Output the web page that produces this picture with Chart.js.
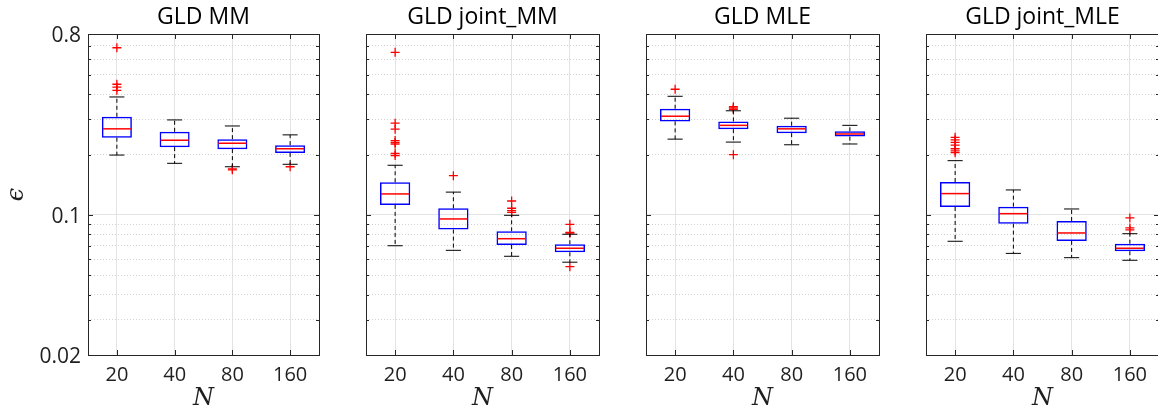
<!DOCTYPE html>
<html>
<head>
<meta charset="utf-8">
<script src="https://cdn.jsdelivr.net/npm/chart.js"></script>
<style>
  html, body { margin:0; padding:0; background:#fff; width:1158px; height:412px; overflow:hidden; position:relative }
  canvas { position:absolute; top:0 }
</style>
</head>
<body>
<canvas id="c0" width="330" height="412" style="left:0px"></canvas>
<canvas id="c1" width="280" height="412" style="left:330px"></canvas>
<canvas id="c2" width="280" height="412" style="left:610px"></canvas>
<canvas id="c3" width="280" height="412" style="left:890px"></canvas>
<script>
// sample sizes on the x axis
const categories = ['20', '40', '80', '160'];
const titles = ['GLD MM', 'GLD joint_MM', 'GLD MLE', 'GLD joint_MLE'];

// log y axis: grid values and the ones that get a label
const yGrid = [0.02, 0.03, 0.04, 0.05, 0.06, 0.07, 0.08, 0.09, 0.1, 0.2, 0.3, 0.4, 0.5, 0.6, 0.7, 0.8];
const yLabelled = [0.02, 0.1, 0.8];

// GLD MM
const mmLow  = [0.199, 0.181, 0.174, 0.179];
const mmQ1   = [0.243, 0.218, 0.213, 0.204];
const mmMed  = [0.269, 0.236, 0.228, 0.214];
const mmQ3   = [0.309, 0.260, 0.239, 0.223];
const mmHigh = [0.388, 0.298, 0.278, 0.251];
const mmOut  = [[0.683, 0.449, 0.434, 0.419], [], [0.168, 0.170], [0.174]];

// GLD joint_MM
const jmmLow  = [0.0702, 0.0666, 0.0622, 0.0581];
const jmmQ1   = [0.1122, 0.0845, 0.0708, 0.0651];
const jmmMed  = [0.1273, 0.0955, 0.0761, 0.0682];
const jmmQ3   = [0.1456, 0.108, 0.0829, 0.0714];
const jmmHigh = [0.177, 0.130, 0.0996, 0.0801];
const jmmOut  = [[0.648, 0.287, 0.268, 0.235, 0.230, 0.226, 0.203, 0.198], [0.157],
                 [0.1174, 0.108, 0.105, 0.103], [0.0898, 0.0819, 0.0812, 0.0552]];

// GLD MLE
const mleLow  = [0.239, 0.231, 0.224, 0.226];
const mleQ1   = [0.293, 0.268, 0.256, 0.246];
const mleMed  = [0.311, 0.280, 0.269, 0.2536];
const mleQ3   = [0.339, 0.293, 0.279, 0.2615];
const mleHigh = [0.391, 0.331, 0.304, 0.280];
const mleOut  = [[0.424], [0.347, 0.342, 0.337, 0.200], [], []];

// GLD joint_MLE
const jmleLow  = [0.0739, 0.0643, 0.0612, 0.0594];
const jmleQ1   = [0.1096, 0.0905, 0.0742, 0.0659];
const jmleMed  = [0.1278, 0.1015, 0.0813, 0.0682];
const jmleQ3   = [0.146, 0.110, 0.0933, 0.0719];
const jmleHigh = [0.1866, 0.1333, 0.1071, 0.0806];
const jmleOut  = [[0.244, 0.237, 0.230, 0.223, 0.214, 0.209, 0.2046], [], [], [0.0966, 0.0861, 0.0842]];

const panels = [
  { low: mmLow, q1: mmQ1, med: mmMed, q3: mmQ3, high: mmHigh, out: mmOut },
  { low: jmmLow, q1: jmmQ1, med: jmmMed, q3: jmmQ3, high: jmmHigh, out: jmmOut },
  { low: mleLow, q1: mleQ1, med: mleMed, q3: mleQ3, high: mleHigh, out: mleOut },
  { low: jmleLow, q1: jmleQ1, med: jmleMed, q3: jmleQ3, high: jmleHigh, out: jmleOut }
];

// layout of each panel
const yAxisWidth = [88, 36, 36, 36];
const AXIS = '#1f1f1f';
const BOX_FRAC = 0.52;

// whiskers, caps, medians, axes box and inward ticks
const boxPlugin = {
  id: 'boxWhisker',
  afterDatasetsDraw(chart, args, opts) {
    const { ctx, chartArea: a, scales: { x, y } } = chart;
    const p = opts.panel;
    const band = x.getPixelForValue(1) - x.getPixelForValue(0);
    const line = (x0, y0, x1, y1) => { ctx.beginPath(); ctx.moveTo(x0, y0); ctx.lineTo(x1, y1); ctx.stroke(); };
    ctx.save();
    categories.forEach((c, i) => {
      const cx = x.getPixelForValue(i);
      ctx.strokeStyle = '#000';
      ctx.lineWidth = 1;
      ctx.setLineDash([4, 3]);
      line(cx, y.getPixelForValue(p.q3[i]), cx, y.getPixelForValue(p.high[i]));
      line(cx, y.getPixelForValue(p.q1[i]), cx, y.getPixelForValue(p.low[i]));
      ctx.setLineDash([]);
      const cap = band * BOX_FRAC / 4;
      line(cx - cap, y.getPixelForValue(p.high[i]), cx + cap, y.getPixelForValue(p.high[i]));
      line(cx - cap, y.getPixelForValue(p.low[i]), cx + cap, y.getPixelForValue(p.low[i]));
      const hw = band * BOX_FRAC / 2 - 1;
      ctx.strokeStyle = '#ff0000';
      ctx.lineWidth = 1.5;
      line(cx - hw, y.getPixelForValue(p.med[i]), cx + hw, y.getPixelForValue(p.med[i]));
    });
    // axes box
    ctx.strokeStyle = '#262626';
    ctx.lineWidth = 1;
    ctx.strokeRect(Math.round(a.left) + 0.5, Math.round(a.top) + 0.5,
                   Math.round(a.right - a.left), Math.round(a.bottom - a.top));
    yGrid.forEach(v => {
      const py = Math.round(y.getPixelForValue(v)) + 0.5;
      const len = v === 0.1 ? 5 : 3;
      line(a.left, py, a.left + len, py);
      line(a.right, py, a.right - len, py);
    });
    categories.forEach((c, i) => {
      const cx = Math.round(x.getPixelForValue(i)) + 0.5;
      line(cx, a.bottom, cx, a.bottom - 5);
      line(cx, a.top, cx, a.top + 5);
    });
    ctx.restore();
  }
};

panels.forEach((p, k) => {
  const outliers = [];
  p.out.forEach((vals, i) => vals.forEach(v => outliers.push({ x: categories[i], y: v })));

  new Chart(document.getElementById('c' + k), {
    type: 'bar',
    data: {
      labels: categories,
      datasets: [
        {
          type: 'bar',
          data: p.q1.map((v, i) => [v, p.q3[i]]),
          backgroundColor: 'rgba(0,0,0,0)',
          borderColor: '#0000ff',
          borderWidth: 1.5,
          borderSkipped: false,
          barPercentage: BOX_FRAC,
          categoryPercentage: 1
        },
        {
          type: 'scatter',
          data: outliers,
          pointStyle: 'cross',
          radius: 4.5,
          borderColor: '#ff0000',
          borderWidth: 1.3,
          showLine: false
        }
      ]
    },
    options: {
      responsive: false,
      animation: false,
      devicePixelRatio: 1,
      layout: { padding: { left: 0, right: 11, top: 0, bottom: 0 } },
      plugins: {
        legend: { display: false },
        tooltip: { enabled: false },
        title: {
          display: true,
          text: titles[k],
          fullSize: false,
          color: '#000',
          font: { family: 'Open Sans', size: 23, weight: 'normal', lineHeight: 1.2 },
          padding: { top: 4, bottom: 2.4 }
        },
        boxWhisker: { panel: p }
      },
      scales: {
        x: {
          type: 'category',
          offset: true,
          grid: { offset: false, drawTicks: false, color: '#e3e3e3', lineWidth: 1 },
          border: { display: false },
          ticks: { color: AXIS, font: { family: 'Open Sans', size: 20 }, padding: 8, maxRotation: 0 },
          afterFit: s => { s.height = 57; },
          title: {
            display: true,
            text: 'N',
            color: AXIS,
            font: { family: 'DejaVu Serif', style: 'italic', size: 24, lineHeight: 1 },
            padding: { top: 0, bottom: 1 }
          }
        },
        y: {
          type: 'logarithmic',
          min: 0.02,
          max: 0.8,
          afterBuildTicks: s => { s.ticks = yGrid.map(v => ({ value: v })); },
          afterFit: s => { s.width = yAxisWidth[k]; },
          grid: {
            drawTicks: false,
            lineWidth: 1,
            color: c => (c.tick && c.tick.value === 0.1) ? '#e3e3e3' : '#d4d4d4'
          },
          border: {
            display: false,
            dash: c => (c.tick && c.tick.value === 0.1) ? [] : [1, 2]
          },
          ticks: {
            display: k === 0,
            autoSkip: false,
            color: AXIS,
            padding: 7,
            labelOffset: 2,
            font: { family: 'Open Sans', size: 21 },
            callback: v => yLabelled.includes(v) ? String(v) : ''
          },
          title: {
            display: k === 0,
            text: '\u03F5',
            color: AXIS,
            font: { family: 'DejaVu Serif', style: 'italic', size: 24, lineHeight: 1 },
            padding: { top: 5, bottom: 0 }
          }
        }
      }
    },
    plugins: [boxPlugin]
  });
});
</script>
</body>
</html>
